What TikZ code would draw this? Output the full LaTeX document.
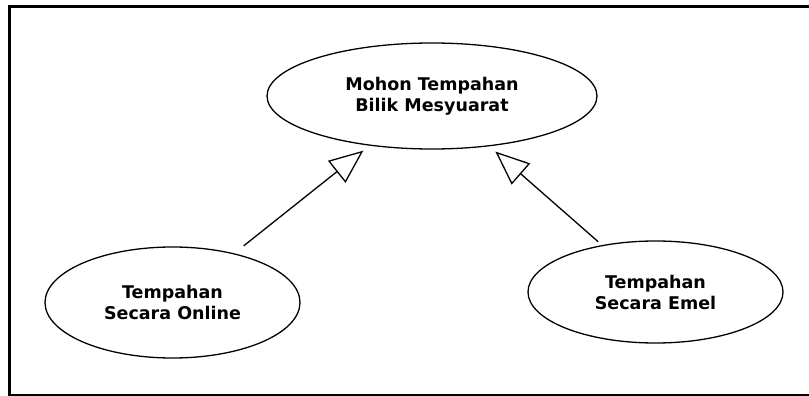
\documentclass[tikz,border=0pt]{standalone}
\usepackage{fontspec}
\setmainfont{DejaVu Sans}
\usetikzlibrary{shapes.geometric,arrows.meta}

\tikzset{
	usecase/.style={draw,ellipse,line width=1.3pt,align=center,inner sep=0pt,
		font=\bfseries\fontsize{17.5}{21}\selectfont},
	gen/.style={-{Triangle[open,length=34pt,width=28pt]},line width=1.3pt,shorten >=8pt}
}

\begin{document}
\begin{tikzpicture}[x=1pt,y=-1pt]
		\useasboundingbox (0,0) rectangle (809,396);
	
		% draw outer frame
		\draw[line width=2.5pt] (9.5,6.5) rectangle (814,395);
	
		% draw use cases
		\node (mohon) at (432,96) [usecase,minimum width=330pt,minimum height=106pt] {Mohon Tempahan\\Bilik Mesyuarat};
		\node (online) at (172.5,302.5) [usecase,minimum width=255pt,minimum height=111pt] {Tempahan\\Secara Online};
		\node (emel) at (655.5,292) [usecase,minimum width=255pt,minimum height=102pt] {Tempahan\\Secara Emel};
	
		% draw generalisation arrows
		\draw[gen,shorten <=12pt] (online) -- (mohon);
		\draw[gen,shorten <=5pt] (emel) -- (mohon);
	\end{tikzpicture}
\end{document}
